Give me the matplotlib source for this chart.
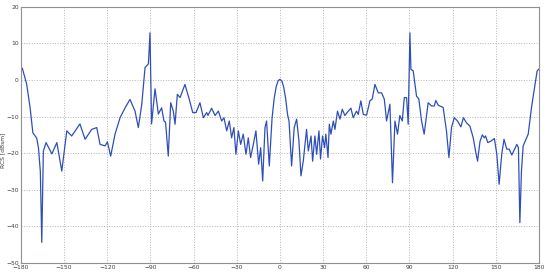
import numpy as np
import matplotlib
matplotlib.use("Agg")
from matplotlib import pyplot as plt

# angle [deg] and RCS [dBsm]
angle = [
    -180, -179, -176, -173.6, -171.7, -169, -167.8, -166.5, -165.5, -164.4, -162.5, -158.5,
    -155, -151.6, -148.1, -144.7, -140, -139, -135.4, -130.8, -127.3, -125, -121.5, -119.9,
    -117.6, -114.6, -111.1, -107.6, -104.2, -100.7, -98.4, -96, -93.75, -91.4, -90.3, -89.2,
    -86.8, -84.5, -82.2, -80.6, -79.5, -77.6, -75.9, -74.1, -72.9, -71.3, -69.4, -66,
    -63, -60.6, -58.3, -55.6, -53.2, -50.9, -50, -47.5, -45.1, -42.8, -40.5, -38.9,
    -37, -35.2, -33.6, -32, -30.6, -28.9, -27.3, -25.5, -23.6, -22, -20.4, -18.5,
    -16.7, -14.8, -13.4, -12, -10.4, -9.3, -7.4, -5.5, -4, -2.6, -1.3, 0,
    1.3, 2.6, 4, 5.3, 6.3, 8.1, 9.9, 11.6, 13.2, 14.6, 16.2, 18.5, 19.7, 21.6, 22.7, 24.3,
    25.5, 27.1, 28.2, 29.6, 31, 31.9, 33.4, 34.3, 35.4, 37.1, 38.2, 40,
    41.7, 43.3, 45.1, 47.5, 49.3, 50.9, 53.2, 54.4, 56.2, 57.9, 60.2, 62.5,
    64.1, 66, 68.3, 70.6, 72.5, 74.1, 76.4, 78.2, 79.9, 81.7, 83.3, 85,
    86.4, 88, 89.1, 90.3, 91, 92.6, 94.9, 96.5, 98.4, 100.2, 103, 105.3,
    107.2, 108.3, 110, 113.4, 115.7, 117.4, 119.2, 121.1, 123.4, 125.7, 127.5, 129.6,
    132, 134.3, 135.9, 137.3, 139, 140.6, 142, 142.9, 144.4, 146.6, 149, 150.7,
    152.3, 154.1, 155.7, 157.6, 159.3, 161.1, 163, 164.6, 165.7, 166.7, 167.8, 169,
    172.5, 174.8, 177.1, 178.7, 180,
]
rcs = [
    3.5, 3.2, -1.1, -7.6, -14.4, -15.9, -18.5, -25, -44.4, -19.4, -17.1, -20.2,
    -17.1, -24.9, -13.9, -15.3, -12.6, -12, -16.2, -13.5, -13, -17.6, -18, -16.9,
    -20.8, -14.8, -10.3, -7.6, -5.3, -8.5, -13, -6.6, 3.4, 4.4, 12.9, -12,
    -2.4, -9.3, -7.6, -11.2, -11.5, -20.8, -6.2, -8.5, -12.1, -3.9, -4.8, -1.2,
    -5.3, -8.9, -8.9, -6.2, -10.3, -8.9, -9.7, -7.7, -9.7, -8.5, -11.2, -10.3,
    -13.9, -11.2, -15.8, -13, -20.3, -13.9, -17.6, -14.8, -20.3, -15.8, -21.2, -17.6,
    -13.9, -23, -18.5, -27.6, -13, -11.2, -23.5, -10.5, -5.0, -1.8, -0.2, 0.2,
    -0.3, -1.9, -5.2, -9.5, -11.2, -23.5, -13, -10.7, -16.7, -26.2, -22.2, -13.5, -19.4, -15.3, -22.2, -15.3,
    -20.3, -13.9, -21.6, -15.3, -18.5, -14.8, -21.2, -12.1, -14.8, -11.2, -13.5, -8.5,
    -10.7, -8, -9.7, -8.5, -7.7, -10.3, -8.5, -9.4, -5.7, -9.4, -9.6, -5.7,
    -5.2, -1.2, -3.5, -3.5, -5.2, -11.2, -6.6, -28.1, -11.2, -14.8, -9.7, -11.2,
    -4.8, -4.8, -12.1, 12.9, 2.9, 2.5, -4.4, -5.2, -11.2, -14.8, -6.2, -7.1,
    -7.1, -5.6, -6.9, -7.5, -13.9, -21.2, -13, -10.3, -11.2, -12.8, -10.3, -11.7,
    -12.6, -15.8, -19.4, -22.2, -16.8, -15, -15.8, -15.3, -17.1, -16.7, -16, -20.3,
    -28.5, -20.3, -16.2, -18.9, -18.9, -20.5, -18.9, -17.6, -18.5, -39, -25, -18,
    -14.8, -7.5, -1.6, 2.5, 3.0,
]

fig = plt.figure(figsize=(5.5, 2.75), dpi=100)
ax = fig.add_axes([0.038, 0.044, 0.942, 0.931])

ax.plot(angle, rcs, color="#2f4fb8", linewidth=0.9)

ax.set_xlim(-180, 180)
ax.set_ylim(-50, 20)
ax.set_xticks(np.arange(-180, 181, 30))
ax.set_yticks(np.arange(-50, 21, 10))
ax.grid(True, linestyle=":", color="#b4b4b4", linewidth=0.7)
ax.tick_params(labelsize=4.3, colors="#404040", length=0, pad=1.5)
for s in ax.spines.values():
    s.set_color("#909090")
    s.set_linewidth(0.8)
ax.set_ylabel("RCS [dBsm]", fontsize=4.3, color="#404040")
ax.yaxis.set_label_coords(-0.031, 0.44)

fig.savefig("out.png", dpi=100)
